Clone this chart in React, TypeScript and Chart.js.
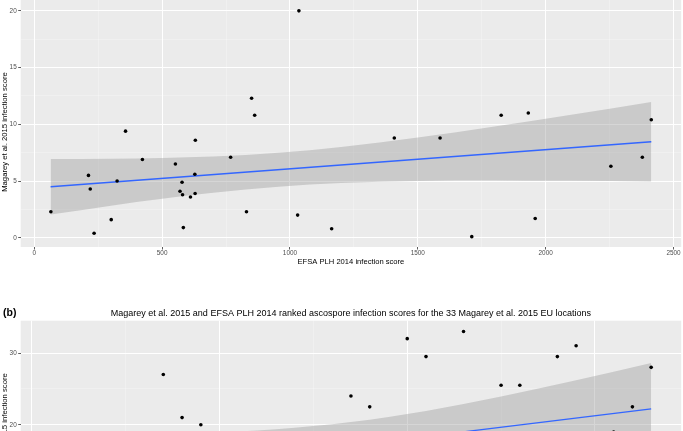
import React, { useEffect, useRef } from 'react';
import { Chart, registerables } from 'chart.js';

Chart.register(...registerables);

const FONT = "'Liberation Sans', Arial, Helvetica, sans-serif";
Chart.defaults.font.family = FONT;

// ---------- Panel (a): raw infection scores ----------
const efsaScore = [65, 212, 219, 234, 301, 324, 357, 423, 552, 570, 578, 580, 583, 611, 628, 629, 630, 768, 830, 850, 862, 1030, 1035, 1163, 1408, 1587, 1711, 1826, 1932, 1959, 2255, 2378, 2413];
const magareyScore = [2.3, 5.5, 4.3, 0.4, 1.6, 5.0, 9.4, 6.9, 6.5, 4.1, 4.9, 3.8, 0.9, 3.6, 5.6, 3.9, 8.6, 7.1, 2.3, 12.3, 10.8, 2.0, 20.0, 0.8, 8.8, 8.8, 0.1, 10.8, 11.0, 1.7, 6.3, 7.1, 10.4];
const fitAX = [64, 2413];
const fitAY = [4.5, 8.46];
const bandAX = [64, 300, 500, 700, 955, 1200, 1500, 1800, 2100, 2413];
const bandAUpper = [6.95, 6.97, 7.04, 7.17, 7.5, 8.01, 8.83, 9.8, 10.84, 11.96];
const bandALower = [2.05, 2.83, 3.44, 3.97, 4.5, 4.83, 5.01, 5.06, 5.02, 4.96];
const xMajorA = [0, 500, 1000, 1500, 2000, 2500];
const yMajorA = [0, 5, 10, 15, 20];

// ---------- Panel (b): ranked infection scores ----------
const efsaRank = [1, 2, 3, 4, 5, 6, 7, 8, 9, 10, 11, 12, 13, 14, 15, 16, 17, 18, 19, 20, 21, 22, 23, 24, 25, 26, 27, 28, 29, 30, 31, 32, 33];
const magareyRank = [8.5, 17, 14, 2, 5, 16, 27, 21, 20, 13, 15, 11, 4, 10, 18, 12, 24, 22.5, 8.5, 32, 29.5, 7, 33, 3, 25.5, 25.5, 1, 29.5, 31, 6, 19, 22.5, 28];
const fitBX = [1, 33];
const fitBY = [11.98, 22.22];
const bandBX = [1, 5, 9, 13, 17, 21, 25, 29, 33];
const bandBUpper = [18.38, 18.52, 18.81, 19.37, 20.37, 21.93, 23.93, 26.2, 28.62];
const bandBLower = [5.58, 8.0, 10.27, 12.27, 13.83, 14.83, 15.39, 15.68, 15.82];
const xMajorB = [0, 10, 20, 30];
const yMajorB = [0, 10, 20, 30];

const xTitle = 'EFSA PLH 2014 infection score';
const yTitle = 'Magarey et al. 2015 infection score';
const titleB = 'Magarey et al. 2015 and EFSA PLH 2014 ranked ascospore infection scores for the 33 Magarey et al. 2015 EU locations';

const zip = (xs: number[], ys: number[]) => xs.map((x, i) => ({ x, y: ys[i] }));

const withMinors = (major: number[]) => {
  const vals: number[] = [];
  major.forEach((v, i) => {
    vals.push(v);
    if (i < major.length - 1) vals.push((v + major[i + 1]) / 2);
  });
  return vals;
};

const panelBg = {
  id: 'panelBg',
  beforeDraw(chart: any) {
    const { ctx, chartArea: a } = chart;
    ctx.save();
    ctx.fillStyle = '#EBEBEB';
    ctx.fillRect(a.left, a.top, a.right - a.left, a.bottom - a.top);
    ctx.restore();
  },
};

function makeAxis(kind: 'x' | 'y', min: number, max: number, major: number[], size: number, pad: number, title?: string) {
  const isMajor = (v: number) => major.includes(v);
  return {
    type: 'linear',
    position: kind === 'x' ? 'bottom' : 'left',
    min,
    max,
    afterBuildTicks: (s: any) => {
      s.ticks = withMinors(major).map((v) => ({ value: v }));
    },
    afterFit: (s: any) => {
      if (kind === 'x') s.height = size;
      else s.width = size;
      s.paddingTop = 0;
      s.paddingBottom = 0;
      s.paddingLeft = 0;
      s.paddingRight = 0;
    },
    ticks: {
      autoSkip: false,
      maxRotation: 0,
      minRotation: 0,
      color: '#4D4D4D',
      font: { size: 6.4, family: FONT },
      padding: pad,
      callback: (v: any) => (isMajor(Number(v)) ? String(v) : ''),
    },
    grid: {
      drawOnChartArea: true,
      drawTicks: true,
      tickLength: 2.5,
      color: (c: any) => (c.tick && isMajor(c.tick.value) ? '#FFFFFF' : 'rgba(255,255,255,0.55)'),
      lineWidth: (c: any) => (c.tick && isMajor(c.tick.value) ? 1 : 0.5),
      tickColor: (c: any) => (c.tick && isMajor(c.tick.value) ? '#333333' : 'rgba(0,0,0,0)'),
      tickWidth: 0.8,
    },
    border: { display: false },
    title: title
      ? { display: true, text: title, color: '#000000', font: { size: 7.6, family: FONT }, padding: 0 }
      : { display: false },
  };
}

function buildDatasets(px: number[], py: number[], fx: number[], fy: number[], bx: number[], bu: number[], bl: number[]) {
  return [
    {
      label: 'points',
      data: zip(px, py),
      showLine: false,
      pointRadius: 1.8,
      pointHoverRadius: 1.8,
      pointBackgroundColor: '#000000',
      backgroundColor: '#000000',
      pointBorderWidth: 0,
    },
    {
      label: 'fit',
      data: zip(fx, fy),
      showLine: true,
      borderColor: '#3366FF',
      borderWidth: 1.4,
      pointRadius: 0,
      fill: false,
    },
    {
      label: 'upper',
      data: zip(bx, bu),
      showLine: true,
      borderWidth: 0,
      borderColor: 'rgba(0,0,0,0)',
      pointRadius: 0,
      fill: '+1',
      backgroundColor: 'rgba(153,153,153,0.4)',
      cubicInterpolationMode: 'monotone',
    },
    {
      label: 'lower',
      data: zip(bx, bl),
      showLine: true,
      borderWidth: 0,
      borderColor: 'rgba(0,0,0,0)',
      pointRadius: 0,
      fill: false,
      cubicInterpolationMode: 'monotone',
    },
  ];
}

export default function App() {
  const refA = useRef<HTMLCanvasElement>(null);
  const refB = useRef<HTMLCanvasElement>(null);

  useEffect(() => {
    const chartA = new Chart(refA.current as HTMLCanvasElement, {
      type: 'scatter',
      data: { datasets: buildDatasets(efsaScore, magareyScore, fitAX, fitAY, bandAX, bandAUpper, bandALower) as any },
      options: {
        responsive: false,
        animation: false,
        devicePixelRatio: 1,
        events: [],
        layout: { padding: { top: 0, left: 0, right: 1, bottom: 4 } },
        plugins: { legend: { display: false }, tooltip: { enabled: false }, title: { display: false } },
        scales: {
          x: makeAxis('x', -53, 2530, xMajorA, 19, 0, xTitle) as any,
          y: makeAxis('y', -0.81, 21.06, yMajorA, 20.7, 1.5) as any,
        },
      },
      plugins: [panelBg],
    });

    const chartB = new Chart(refB.current as HTMLCanvasElement, {
      type: 'scatter',
      data: { datasets: buildDatasets(efsaRank, magareyRank, fitBX, fitBY, bandBX, bandBUpper, bandBLower) as any },
      options: {
        responsive: false,
        animation: false,
        devicePixelRatio: 1,
        events: [],
        layout: { padding: { top: 0, left: 0, right: 1, bottom: 5 } },
        plugins: {
          legend: { display: false },
          tooltip: { enabled: false },
          title: {
            display: true,
            text: titleB,
            fullSize: false,
            align: 'center',
            color: '#000000',
            font: { size: 9, family: FONT, weight: 'normal' },
            padding: { top: 8, bottom: 1.9 },
          },
        },
        scales: {
          x: makeAxis('x', -0.6, 34.6, xMajorB, 25, 0, xTitle) as any,
          y: makeAxis('y', -0.65, 34.5, yMajorB, 20.7, 1.5) as any,
        },
      },
      plugins: [panelBg],
    });

    return () => {
      chartA.destroy();
      chartB.destroy();
    };
  }, []);

  const yTitleStyle = (cy: number): React.CSSProperties => ({
    position: 'absolute',
    left: 5,
    top: cy,
    transform: 'translate(-50%, -50%) rotate(-90deg)',
    whiteSpace: 'nowrap',
    fontFamily: FONT,
    fontSize: 7.7,
    lineHeight: 1,
    color: '#000000',
  });

  return (
    <div style={{ position: 'fixed', left: 0, top: 0, width: 683, height: 431, overflow: 'hidden', background: '#FFFFFF' }}>
      <canvas ref={refA} width={683} height={273} style={{ position: 'absolute', left: 0, top: -3, display: 'block' }} />
      <canvas ref={refB} width={683} height={303} style={{ position: 'absolute', left: 0, top: 300, display: 'block' }} />
      <div style={yTitleStyle(131.5)}>{yTitle}</div>
      <div style={yTitleStyle(433)}>{yTitle}</div>
      <div style={{ position: 'absolute', left: 3, top: 307, fontFamily: FONT, fontWeight: 'bold', fontSize: 10.5, lineHeight: 1, color: '#000000' }}>(b)</div>
    </div>
  );
}
